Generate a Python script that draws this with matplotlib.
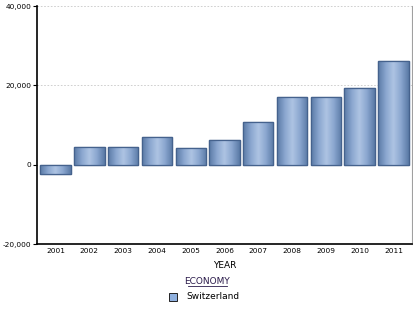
import matplotlib
matplotlib.use("Agg")
import matplotlib.pyplot as plt
import numpy as np
from matplotlib.patches import Rectangle

years = ["2001", "2002", "2003", "2004", "2005", "2006", "2007", "2008", "2009", "2010", "2011"]
values = [-2300, 4500, 4500, 7000, 4300, 6300, 10800, 17100, 17000, 19400, 26200]
yticks = [-20000, 0, 20000, 40000]
ytick_labels = ["-20,000", "0", "20,000", "40,000"]

fig = plt.figure(figsize=(4.14, 3.10), dpi=100)
ax = fig.add_axes([37/414, 66/310, 375/414, 238/310])

x = np.arange(len(years))
bars = ax.bar(x, values, width=0.9, color="#7f9dc9", edgecolor="#45628d", linewidth=0.9, zorder=3)

# cylinder gradient
cmap = matplotlib.colors.LinearSegmentedColormap.from_list(
    "cyl", ["#5a7aa6", "#8aa6cf", "#aec4e3", "#8aa6cf", "#5a7aa6"])
grad = np.linspace(0, 1, 64).reshape(1, -1)
for b in bars:
    x0, y0 = b.get_x(), b.get_y()
    w, h = b.get_width(), b.get_height()
    im = ax.imshow(grad, cmap=cmap, aspect="auto", extent=[x0, x0 + w, y0, y0 + h],
                   zorder=3.5, interpolation="bilinear")
    im.set_clip_path(b)
for b in bars:
    ax.add_patch(Rectangle((b.get_x(), b.get_y()), b.get_width(), b.get_height(),
                           fill=False, edgecolor="#45628d", linewidth=0.9, zorder=4))

ax.set_xlim(-0.55, len(years) - 0.45)
ax.set_ylim(-20000, 40000)
ax.set_yticks(yticks)
ax.set_yticklabels(ytick_labels, fontsize=5.3)
ax.set_xticks(x)
ax.set_xticklabels(years, fontsize=5.3)
ax.tick_params(axis="x", length=0, pad=3)
ax.tick_params(axis="y", length=3, width=0.8, pad=1)

for yv in [20000, 40000]:
    ax.axhline(yv, color="#c8c8c8", linestyle=(0, (2, 2)), linewidth=0.6, zorder=1)

ax.spines["top"].set_visible(False)
ax.spines["right"].set_color("#a0a0a0")
ax.spines["right"].set_linewidth(0.8)
ax.spines["left"].set_linewidth(1.2)
ax.spines["bottom"].set_linewidth(1.2)

fig.text(225/414, 1 - 266/310, "YEAR", fontsize=6.5, ha="center", va="center")
fig.text(207/414, 1 - 281/310, "ECONOMY", fontsize=6.5, ha="center", va="center", color="#2a1a4a")
fig.add_artist(matplotlib.lines.Line2D([188/414, 227/414], [1 - 286/310, 1 - 286/310],
                                       color="#2a1a4a", linewidth=0.6))
fig.add_artist(Rectangle((169/414, 1 - 300.5/310), 8/414, 8/310, transform=fig.transFigure,
                         facecolor="#8fb0de", edgecolor="#222222", linewidth=0.7))
fig.text(186/414, 1 - 296.5/310, "Switzerland", fontsize=6.5, ha="left", va="center")

fig.savefig("out.png", dpi=100)
